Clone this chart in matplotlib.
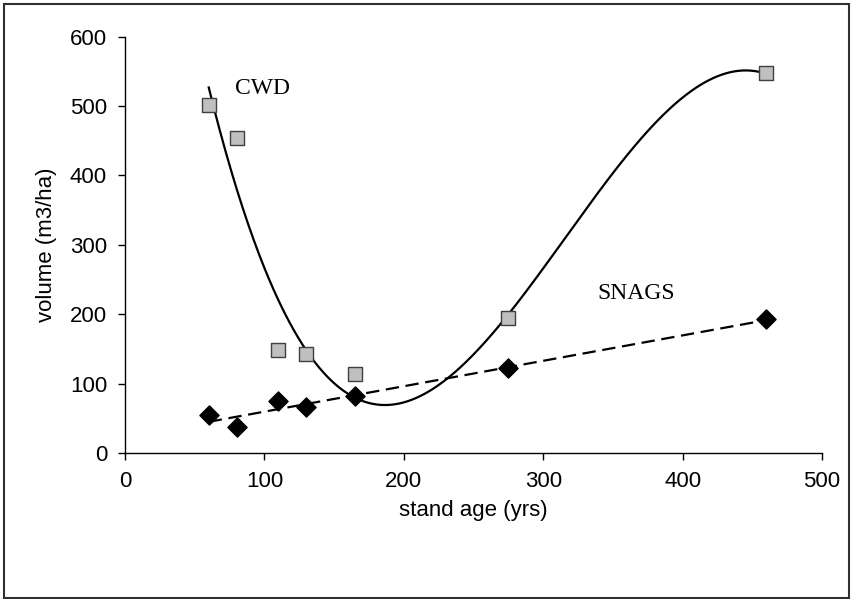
import numpy as np
import matplotlib
matplotlib.use("Agg")
import matplotlib.pyplot as plt
from matplotlib.patches import Rectangle

age = [60, 80, 110, 130, 165, 275, 460]
cwd = [502, 454, 149, 142, 114, 194, 547]
snags = [55, 37, 75, 66, 82, 122, 193]
xticks = [0, 100, 200, 300, 400, 500]
yticks = [0, 100, 200, 300, 400, 500, 600]

fig = plt.figure(figsize=(8.51, 5.99), dpi=100)
ax = fig.add_axes([0.147, 0.2437, 0.819, 0.695])

fs = 16
fs_serif = 17
sans = "Liberation Sans"
serif = "Liberation Serif"

# trendlines (fit to data, like Excel)
xs = np.linspace(min(age), max(age), 400)
pc = np.polyfit(age, cwd, 3)
ax.plot(xs, np.polyval(pc, xs), color="black", lw=1.6, zorder=2)
pl = np.polyfit(age, snags, 1)
ax.plot(xs, np.polyval(pl, xs), color="black", lw=1.6, ls=(0, (6, 3)), zorder=2)

ax.scatter(age, cwd, marker="s", s=95, facecolor="#c0c0c0", edgecolor="#404040", lw=1, zorder=3)
ax.scatter(age, snags, marker="D", s=95, facecolor="black", edgecolor="black", zorder=3)

ax.text(78.5, 526, "CWD", fontfamily=serif, fontsize=fs_serif, va="center", ha="left")
ax.text(338.5, 230, "SNAGS", fontfamily=serif, fontsize=fs_serif, va="center", ha="left")

ax.set_xlim(0, 500)
ax.set_ylim(0, 600)
ax.set_xticks(xticks)
ax.set_yticks(yticks)
ax.tick_params(direction="out", length=5, width=1, labelsize=fs, pad=8)
for lab in ax.get_xticklabels() + ax.get_yticklabels():
    lab.set_fontfamily(sans)
for s in ["top", "right"]:
    ax.spines[s].set_visible(False)
for s in ["left", "bottom"]:
    ax.spines[s].set_linewidth(1)
ax.set_xlabel("stand age (yrs)", fontfamily=sans, fontsize=fs, labelpad=6)
ax.set_ylabel("volume (m3/ha)", fontfamily=sans, fontsize=fs, labelpad=9)

fig.patches.append(Rectangle((0.005, 0.002), 0.993, 0.992, transform=fig.transFigure,
                             fill=False, edgecolor="#303030", lw=1.5))

fig.savefig("out.png", dpi=100)
